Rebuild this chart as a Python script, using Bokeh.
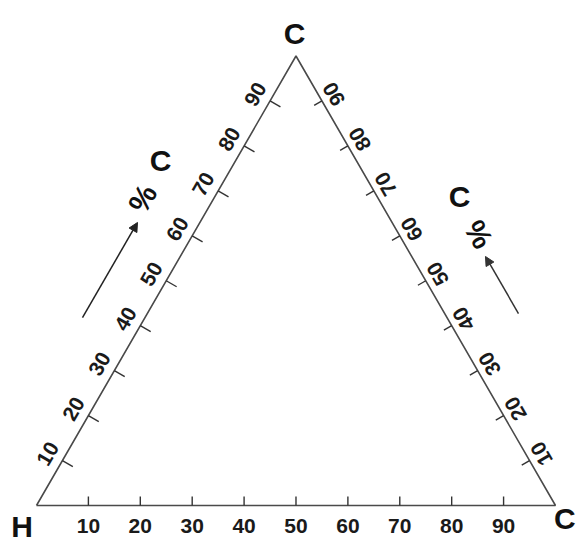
import math
from bokeh.plotting import figure
from bokeh.models import Range1d, Arrow, NormalHead
from bokeh.core.properties import value
from bokeh.embed import file_html
from bokeh.resources import INLINE

# ---- data ----
tick_values = [10, 20, 30, 40, 50, 60, 70, 80, 90]
tick_labels = ["10", "20", "30", "40", "50", "60", "70", "80", "90"]
vertex_names = ["C", "H", "C"]        # apex, bottom-left, bottom-right
left_axis_title = ["%", "C"]
right_axis_title = ["%", "C"]

S3 = math.sqrt(3) / 2
PX = 5.19  # pixels per data unit
FONT = value("Liberation Sans")
TICK_FS = "21px"
BIG_FS = "30px"

p = figure(width=576, height=542, output_backend="svg", toolbar_location=None,
           x_range=Range1d(-6.936, 104.05), y_range=Range1d(-7.129, 97.30),
           min_border=0, x_axis_location=None, y_axis_location=None)
p.grid.visible = False
p.outline_line_color = None
p.background_fill_color = "white"
p.border_fill_color = "white"

# triangle
tri_x = [0, 100, 50, 0]
tri_y = [0, 0, 100 * S3, 0]
p.line(tri_x, tri_y, line_color="#4a4a4a", line_width=1.6)

def px(n):
    return n / PX

# bottom axis ticks & labels
bx = [v for v in tick_values]
p.segment(x0=bx, y0=[0] * len(bx), x1=bx, y1=[px(9)] * len(bx),
          line_color="#333333", line_width=1.4)
p.text(x=bx, y=[-px(20.5)] * len(bx), text=tick_labels, text_font=FONT,
       text_font_style="bold", text_font_size=TICK_FS, text_color="#1a1a1a",
       text_align="center", text_baseline="middle")

# left edge (H -> apex)
lx = [v / 2 for v in tick_values]
ly = [v * S3 for v in tick_values]
nlx, nly = S3, -0.5           # inward normal
p.segment(x0=lx, y0=ly, x1=[x + nlx * px(12) for x in lx],
          y1=[y + nly * px(12) for y in ly], line_color="#333333", line_width=1.4)
off_n, off_a = px(16), px(1.5)
llx = [x - nlx * off_n - 0.5 * off_a for x in lx]
lly = [y - nly * off_n - S3 * off_a for y in ly]
p.text(x=llx, y=lly, text=tick_labels, angle=math.pi / 3, text_font=FONT,
       text_font_style="bold", text_font_size=TICK_FS, text_color="#1a1a1a",
       text_align="center", text_baseline="middle")

# right edge (bottom-right -> apex)
rx = [100 - v / 2 for v in tick_values]
ry = [v * S3 for v in tick_values]
nrx, nry = -S3, -0.5          # inward normal
p.segment(x0=rx, y0=ry, x1=[x + nrx * px(9) for x in rx],
          y1=[y + nry * px(9) for y in ry], line_color="#333333", line_width=1.4)
off_r = px(14)
rlx = [x - nrx * off_r for x in rx]
rly = [y - nry * off_r for y in ry]
p.text(x=rlx, y=rly, text=tick_labels, angle=2 * math.pi / 3, text_font=FONT,
       text_font_style="bold", text_font_size=TICK_FS, text_color="#1a1a1a",
       text_align="center", text_baseline="middle")

# vertex labels
p.text(x=[49.71, -2.79, 101.79], y=[90.94, -4.05, -2.60], text=vertex_names,
       text_font=FONT, text_font_style="bold", text_font_size=BIG_FS,
       text_color="#111111", text_align="center", text_baseline="middle")

# left axis title "% C" with arrow
p.text(x=[20.42, 23.89], y=[59.15, 66.47], text=left_axis_title,
       angle=[math.pi / 3, 0], text_font=FONT, text_font_style="bold",
       text_font_size=BIG_FS, text_color="#111111",
       text_align="center", text_baseline="middle")
p.add_layout(Arrow(x_start=8.86, y_start=36.22, x_end=19.46, y_end=54.53,
                   line_color="#222222", line_width=1.5,
                   end=NormalHead(size=9, fill_color="#222222", line_color="#222222")))

# right axis title "% C" with arrow
p.text(x=[85.16, 81.5], y=[52.22, 59.54], text=right_axis_title,
       angle=[2 * math.pi / 3, 0], text_font=FONT, text_font_style="bold",
       text_font_size=BIG_FS, text_color="#111111",
       text_align="center", text_baseline="middle")
p.add_layout(Arrow(x_start=92.87, y_start=36.99, x_end=86.51, y_end=47.98,
                   line_color="#333333", line_width=1.5,
                   end=NormalHead(size=9, fill_color="#333333", line_color="#333333")))

open("out.html", "w").write(file_html(p, INLINE))
